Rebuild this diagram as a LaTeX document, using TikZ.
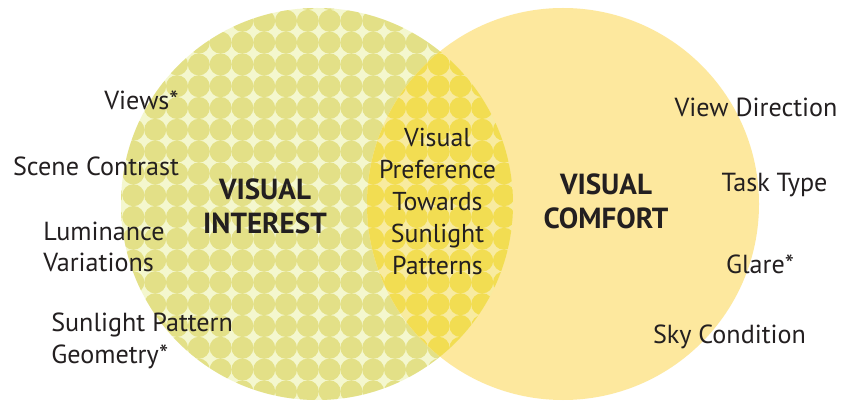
\documentclass[tikz,border=0pt]{standalone}
\usepackage{fontspec}
\setmainfont{PT Sans}
\begin{document}
\begin{tikzpicture}[x=0.75pt,y=-0.75pt,
  label/.style={inner sep=0pt,text=inkdark,font=\fontsize{19.6}{23.6}\selectfont},
  heading/.style={inner sep=0pt,text=inkdark,align=center,font=\fontsize{21.8}{25.5}\selectfont\bfseries},
  middle/.style={inner sep=0pt,text=inkdark,align=center,font=\fontsize{19.4}{24}\selectfont}]
\definecolor{inkdark}{HTML}{231F20}
\definecolor{dotgreen}{HTML}{E3E087}
\definecolor{gapgreen}{HTML}{F4F7CE}
\definecolor{comfortfill}{HTML}{FDE89E}
\definecolor{dotyellow}{HTML}{F2DD52}
\definecolor{gapyellow}{HTML}{F8EBA0}
\def\dotpitch{21.8}
\def\dotrad{11}
% canvas
\useasboundingbox (0,0) rectangle (841,402);
\fill[white] (0,0) rectangle (841,402);
\coordinate (ci) at (317,204);
\coordinate (cc) at (563,204);
% dotted "interest" circle
\fill[gapgreen] (ci) circle[radius=196];
\begin{scope}
  \clip (ci) circle[radius=196];
  \foreach \k in {-10,...,12}{
    \foreach \m in {-2,...,17}{
      \fill[dotgreen] ({264.2+\k*\dotpitch},{42.6+\m*\dotpitch}) circle[radius=\dotrad];
    }}
\end{scope}
% plain "comfort" circle
\fill[comfortfill] (cc) circle[radius=196];
% overlap lens
\begin{scope}
  \clip (ci) circle[radius=196];
  \clip (cc) circle[radius=196];
  \fill[gapyellow] (300,0) rectangle (560,402);
  \foreach \k in {4,...,12}{
    \foreach \m in {-2,...,17}{
      \fill[dotyellow] ({264.2+\k*\dotpitch},{42.6+\m*\dotpitch}) circle[radius=\dotrad];
    }}
\end{scope}
% left labels (multi-line nodes are placed by the baseline of their last line)
\node[label,anchor=base] (views) at (141.5,110) {Views*};
\node[label,anchor=base] (scene) at (96,176) {Scene Contrast};
\node[label,anchor=base west,align=left] (lum) at (43,272) {Luminance\\Variations};
\node[label,anchor=base west,align=left] (geom) at (51,363) {Sunlight Pattern\\Geometry*};
% circle headings
\node[heading,anchor=base] (interest) at (265,234) {VISUAL\\INTEREST};
\node[heading,anchor=base] (comfort) at (606,229) {VISUAL\\COMFORT};
% overlap text
\node[middle,anchor=base] (pref) at (437.5,275) {Visual\\Preference\\Towards\\Sunlight\\Patterns};
% right labels
\node[label,anchor=base] (viewdir) at (756,117) {View Direction};
\node[label,anchor=base] (task) at (774.5,192) {Task Type};
\node[label,anchor=base] (glare) at (760,273) {Glare*};
\node[label,anchor=base] (sky) at (729.5,343) {Sky Condition};
\end{tikzpicture}
\end{document}
